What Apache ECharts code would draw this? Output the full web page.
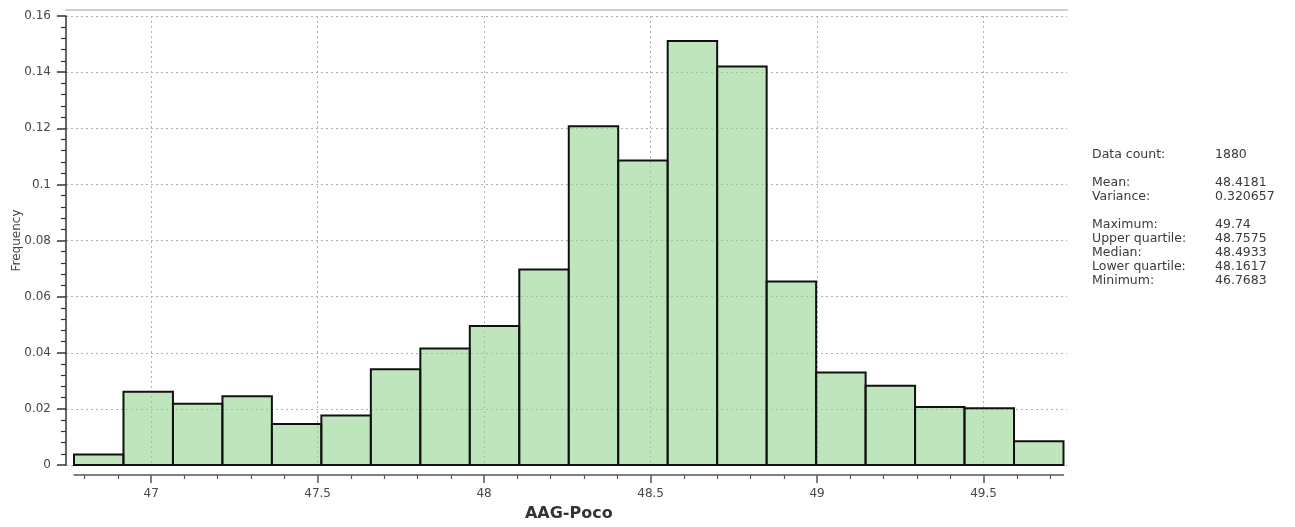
<!DOCTYPE html>
<html>
<head>
<meta charset="utf-8">
<script src="https://cdn.jsdelivr.net/npm/echarts@6/dist/echarts.min.js"></script>
<style>
html,body{margin:0;padding:0;background:#fff;}
#chart{width:1295px;height:527px;}
</style>
</head>
<body>
<div id="chart"></div>
<script>
// ---- data ----
const binEdges = [46.7683, 46.9169, 47.0655, 47.2141, 47.3626, 47.5112, 47.6598, 47.8084, 47.9570, 48.1056, 48.2542,
                  48.4027, 48.5513, 48.6999, 48.8485, 48.9971, 49.1457, 49.2942, 49.4428, 49.5914, 49.7400];
const frequencies = [0.0037, 0.0261, 0.0218, 0.0245, 0.0146, 0.0176, 0.0341, 0.0415, 0.0495, 0.0697,
                     0.1207, 0.1085, 0.1511, 0.1420, 0.0654, 0.0330, 0.0282, 0.0207, 0.0202, 0.0085];
const xMajorTicks = [47, 47.5, 48, 48.5, 49, 49.5];
const xMinorTicks = [46.8, 46.9, 47.1, 47.2, 47.3, 47.4, 47.6, 47.7, 47.8, 47.9, 48.1, 48.2, 48.3, 48.4,
                     48.6, 48.7, 48.8, 48.9, 49.1, 49.2, 49.3, 49.4, 49.6, 49.7];
const xName = 'AAG-Poco';
const yName = 'Frequency';
const statLabels = ['Data count:', 'Mean:', 'Variance:', 'Maximum:', 'Upper quartile:', 'Median:', 'Lower quartile:', 'Minimum:'];
const statValues = ['1880', '48.4181', '0.320657', '49.74', '48.7575', '48.4933', '48.1617', '46.7683'];
const statGroups = [0, 1, 1, 2, 2, 2, 2, 2];

const xMin = binEdges[0], xMax = binEdges[binEdges.length - 1];
const barData = frequencies.map((f, i) => [binEdges[i], binEdges[i + 1], f]);

const FONT = 'DejaVu Sans';
const dotted = { color: '#b0b0b0', width: 1, type: [2, 3] };

// stats text
const graphics = [];
let yy = 155;
for (let i = 0; i < statLabels.length; i++) {
  if (i > 0) yy += (statGroups[i] !== statGroups[i - 1]) ? 28 : 14;
  graphics.push({ type: 'text', left: 1092, top: yy - 7, silent: true,
    style: { text: statLabels[i], font: '12.5px "' + FONT + '"', fill: '#3a3a3a' } });
  graphics.push({ type: 'text', left: 1215, top: yy - 7, silent: true,
    style: { text: statValues[i], font: '12.5px "' + FONT + '"', fill: '#3a3a3a' } });
}

const chart = echarts.init(document.getElementById('chart'), null, { renderer: 'canvas' });
chart.setOption({
  animation: false,
  backgroundColor: '#ffffff',
  textStyle: { fontFamily: FONT },
  grid: [
    { left: 66, right: 228, top: 16, height: 449 },
    { left: 74, right: 231.5, top: 16, height: 449 }
  ],
  xAxis: [
    { // top frame line on outer grid
      gridIndex: 0, type: 'value', position: 'top', min: 0, max: 1, offset: 6,
      axisLine: { show: true, onZero: false, lineStyle: { color: '#cfcfcf', width: 2 } },
      axisTick: { show: false }, axisLabel: { show: false }, splitLine: { show: false }
    },
    { // main x axis with major ticks and labels
      gridIndex: 1, type: 'value', position: 'bottom', min: xMin, max: xMax, offset: 10,
      name: xName, nameLocation: 'middle', nameGap: 31, nameMoveOverlap: false,
      nameTextStyle: { fontFamily: FONT, fontSize: 16, fontWeight: 'bold', color: '#333' },
      axisLine: { show: true, onZero: false, lineStyle: { color: '#555', width: 1.5 } },
      axisTick: { show: true, inside: false, length: 8, customValues: xMajorTicks, lineStyle: { color: '#555', width: 1.5 } },
      axisLabel: { show: true, customValues: xMajorTicks, margin: 13, fontSize: 12, color: '#484848', fontFamily: FONT },
      splitLine: { show: true, lineStyle: dotted },
      minorTick: { show: false }
    },
    { // minor ticks on x axis
      gridIndex: 1, type: 'value', position: 'bottom', min: xMin, max: xMax, offset: 10,
      axisLine: { show: false, onZero: false },
      axisTick: { show: true, inside: false, length: 4, customValues: xMinorTicks, lineStyle: { color: '#555', width: 1.2 } },
      axisLabel: { show: false }, splitLine: { show: false }
    }
  ],
  yAxis: [
    {
      gridIndex: 0, type: 'value', min: 0, max: 0.16, interval: 0.02,
      name: yName, nameLocation: 'middle', nameGap: 43, nameMoveOverlap: false,
      nameTextStyle: { fontFamily: FONT, fontSize: 12, color: '#444' },
      axisLine: { show: true, onZero: false, lineStyle: { color: '#333', width: 1.5 } },
      axisTick: { show: true, inside: false, length: 9, lineStyle: { color: '#333', width: 1.5 } },
      minorTick: { show: true, splitNumber: 5, length: 5, lineStyle: { color: '#333', width: 1.2 } },
      axisLabel: { margin: 15, fontSize: 12, color: '#484848', fontFamily: FONT },
      splitLine: { show: true, lineStyle: dotted }
    },
    {
      gridIndex: 1, type: 'value', min: 0, max: 0.16, show: false
    }
  ],
  graphic: graphics,
  series: [{
    type: 'custom',
    xAxisIndex: 1, yAxisIndex: 1,
    encode: { x: [0, 1], y: 2 },
    data: barData,
    renderItem: function (params, api) {
      const p0 = api.coord([api.value(0), api.value(2)]);
      const p1 = api.coord([api.value(1), 0]);
      return {
        type: 'rect',
        shape: { x: p0[0], y: p0[1], width: p1[0] - p0[0], height: p1[1] - p0[1] },
        style: { fill: 'rgba(147,212,143,0.6)', stroke: '#111', lineWidth: 2 }
      };
    }
  }]
});
</script>
</body>
</html>
